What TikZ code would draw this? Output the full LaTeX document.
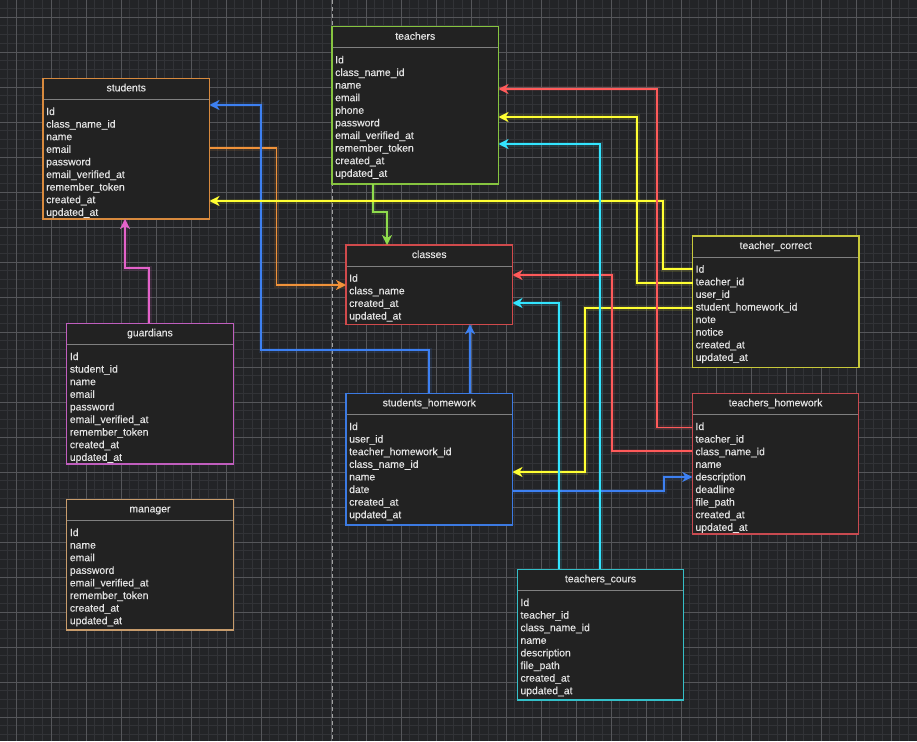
\documentclass[tikz,border=0pt]{standalone}
\usepackage{fontspec}
\setmainfont{Liberation Sans}
\newfontfamily\celltype[FakeBold=0.35]{Liberation Sans}
\usetikzlibrary{arrows.meta,calc}

% canvas and grid
\definecolor{canvas}{HTML}{232427}
\definecolor{gridminor}{HTML}{323337}
\definecolor{gridmajor}{HTML}{55565A}
\definecolor{guide}{HTML}{A0A0A0}
% table look
\definecolor{cellfill}{HTML}{222222}
\definecolor{celltext}{HTML}{E4E4E4}
\definecolor{sepgray}{HTML}{808080}
% table borders
\definecolor{bTeachers}{HTML}{86C440}
\definecolor{bStudents}{HTML}{D88A3E}
\definecolor{bClasses}{HTML}{D04A4C}
\definecolor{bCorrect}{HTML}{C8C83A}
\definecolor{bGuardians}{HTML}{C05EBE}
\definecolor{bStuHw}{HTML}{3C7AE2}
\definecolor{bTchHw}{HTML}{C84A50}
\definecolor{bCours}{HTML}{34BFC8}
\definecolor{bManager}{HTML}{C89C6C}
% connector colours
\definecolor{lGreen}{HTML}{8FDC4C}
\definecolor{lOrange}{HTML}{F0923A}
\definecolor{lBlue}{HTML}{3D80F2}
\definecolor{lPink}{HTML}{E462CA}
\definecolor{lYellow}{HTML}{FFFF33}
\definecolor{lRed}{HTML}{FF5A5A}
\definecolor{lCyan}{HTML}{33E4FF}

\tikzset{
  tablebox/.style={draw, line width=1.1pt, fill=cellfill, anchor=north west,
    minimum width=166.5pt, inner sep=0pt, outer sep=0pt},
  sepline/.style={draw=sepgray, line width=1pt},
  titletext/.style={anchor=base, inner sep=0pt, text=celltext,
    font=\celltype\fontsize{10.4}{12.6}\selectfont},
  rowtext/.style={anchor=base west, inner sep=0pt, text=celltext,
    font=\celltype\fontsize{10.4}{12.6}\selectfont},
  link/.style={line width=1.8pt, draw=#1, line join=miter,
    -{Stealth[length=10pt,width=10pt,inset=3pt]},
    preaction={draw=#1, draw opacity=0.12, line width=5pt, arrows=-}},
}

% name, x, y, height, border colour, title, rows
\newcommand{\erdbox}[7]{%
  \node[tablebox, draw=#5, minimum height=#4pt] (#1) at (#2,#3) {};
  \draw[sepline] ($(#1.north west)+(0.6,21)$) -- ($(#1.north east)+(-0.6,21)$);
  \node[titletext] (#1-title) at ($(#1.north)+(0,13)$) {#6};
  \foreach \r [count=\k] in {#7} {
    \node[rowtext] (#1-\k) at ($(#1.north west)+(3,{36.7+12.6*(\k-1)})$) {\r};
  }
}

\begin{document}
\begin{tikzpicture}[x=1pt,y=-1pt]
\useasboundingbox (0,0) rectangle (917,741);
\fill[canvas] (0,0) rectangle (917,741);

% background grid
\begin{scope}
  \clip (0,0) rectangle (917,741);
  \foreach \i in {-2,...,103} {
    \draw[gridminor, line width=0.8pt] ({16+8.75*\i},0) -- ({16+8.75*\i},741);
  }
  \foreach \i in {-2,...,84} {
    \draw[gridminor, line width=0.8pt] (0,{17+8.75*\i}) -- (917,{17+8.75*\i});
  }
  \foreach \i in {0,...,26} {
    \draw[gridmajor, line width=0.9pt] ({16+35*\i},0) -- ({16+35*\i},741);
  }
  \foreach \i in {0,...,21} {
    \draw[gridmajor, line width=0.9pt] (0,{17+35*\i}) -- (917,{17+35*\i});
  }
\end{scope}

% page guide
\coordinate (guideTop) at (332,0);
\coordinate (guideBot) at (332,741);
\draw[guide, line width=1pt, dash pattern=on 4pt off 3pt] (guideTop) -- (guideBot);

% tables
\erdbox{tch}{332}{26.7}{157.3}{bTeachers}{teachers}%
  {Id,class\_name\_id,name,email,phone,password,email\_verified\_at,remember\_token,created\_at,updated\_at}
\erdbox{stu}{43}{78.3}{140.7}{bStudents}{students}%
  {Id,class\_name\_id,name,email,password,email\_verified\_at,remember\_token,created\_at,updated\_at}
\erdbox{cls}{346}{245}{79.3}{bClasses}{classes}%
  {Id,class\_name,created\_at,updated\_at}
\erdbox{tcr}{692.5}{236}{131.3}{bCorrect}{teacher\_correct}%
  {Id,teacher\_id,user\_id,student\_homework\_id,note,notice,created\_at,updated\_at}
\erdbox{grd}{66.7}{323.3}{140.7}{bGuardians}{guardians}%
  {Id,student\_id,name,email,password,email\_verified\_at,remember\_token,created\_at,updated\_at}
\erdbox{shw}{346}{393.3}{131.7}{bStuHw}{students\_homework}%
  {Id,user\_id,teacher\_homework\_id,class\_name\_id,name,date,created\_at,updated\_at}
\erdbox{thw}{692.3}{393.3}{140.7}{bTchHw}{teachers\_homework}%
  {Id,teacher\_id,class\_name\_id,name,description,deadline,file\_path,created\_at,updated\_at}
\erdbox{tco}{517.3}{569.3}{130.7}{bCours}{teachers\_cours}%
  {Id,teacher\_id,class\_name\_id,name,description,file\_path,created\_at,updated\_at}
\erdbox{mgr}{66.7}{499.3}{130.7}{bManager}{manager}%
  {Id,name,email,password,email\_verified\_at,remember\_token,created\_at,updated\_at}

% relations
\draw[link=lGreen] ($(tch.south west)+(41,0)$) -- ++(0,28) -| ($(cls.north west)+(41,0)$);
\draw[link=lOrange] ($(stu.north east)+(0,69.7)$) -- ++(67,0) |- ($(cls.north west)+(0,40)$);
\draw[link=lBlue] ($(shw.north west)+(83,0)$) -- ++(0,-43.3) -- ++(-168,0) |- ($(stu.north east)+(0,26.7)$);
\draw[link=lBlue] ($(shw.north west)+(124,0)$) -- ($(cls.south west)+(124,0)$);
\draw[link=lBlue] ($(shw.north east)+(0,97.7)$) -- ++(151.7,0) |- ($(thw.north west)+(0,83.7)$);
\draw[link=lPink] ($(grd.north west)+(82.3,0)$) -- ++(0,-55.3) -| ($(stu.south west)+(82,0)$);
\draw[link=lYellow] ($(tcr.north west)+(0,33)$) -- ++(-29.5,0) |- ($(stu.north east)+(0,122.7)$);
\draw[link=lYellow] ($(tcr.north west)+(0,47)$) -- ++(-55.5,0) |- ($(tch.north east)+(0,90.3)$);
\draw[link=lYellow] ($(tcr.north west)+(0,72)$) -- ++(-107.5,0) |- ($(shw.north east)+(0,78.7)$);
\draw[link=lRed] ($(thw.north west)+(0,34.2)$) -- ++(-35.3,0) |- ($(tch.north east)+(0,62.3)$);
\draw[link=lRed] ($(thw.north west)+(0,57.7)$) -- ++(-80.3,0) |- ($(cls.north east)+(0,30)$);
\draw[link=lCyan] ($(tco.north west)+(82.7,0)$) |- ($(tch.north east)+(0,117.3)$);
\draw[link=lCyan] ($(tco.north west)+(41.7,0)$) |- ($(cls.north east)+(0,58)$);
\end{tikzpicture}
\end{document}
